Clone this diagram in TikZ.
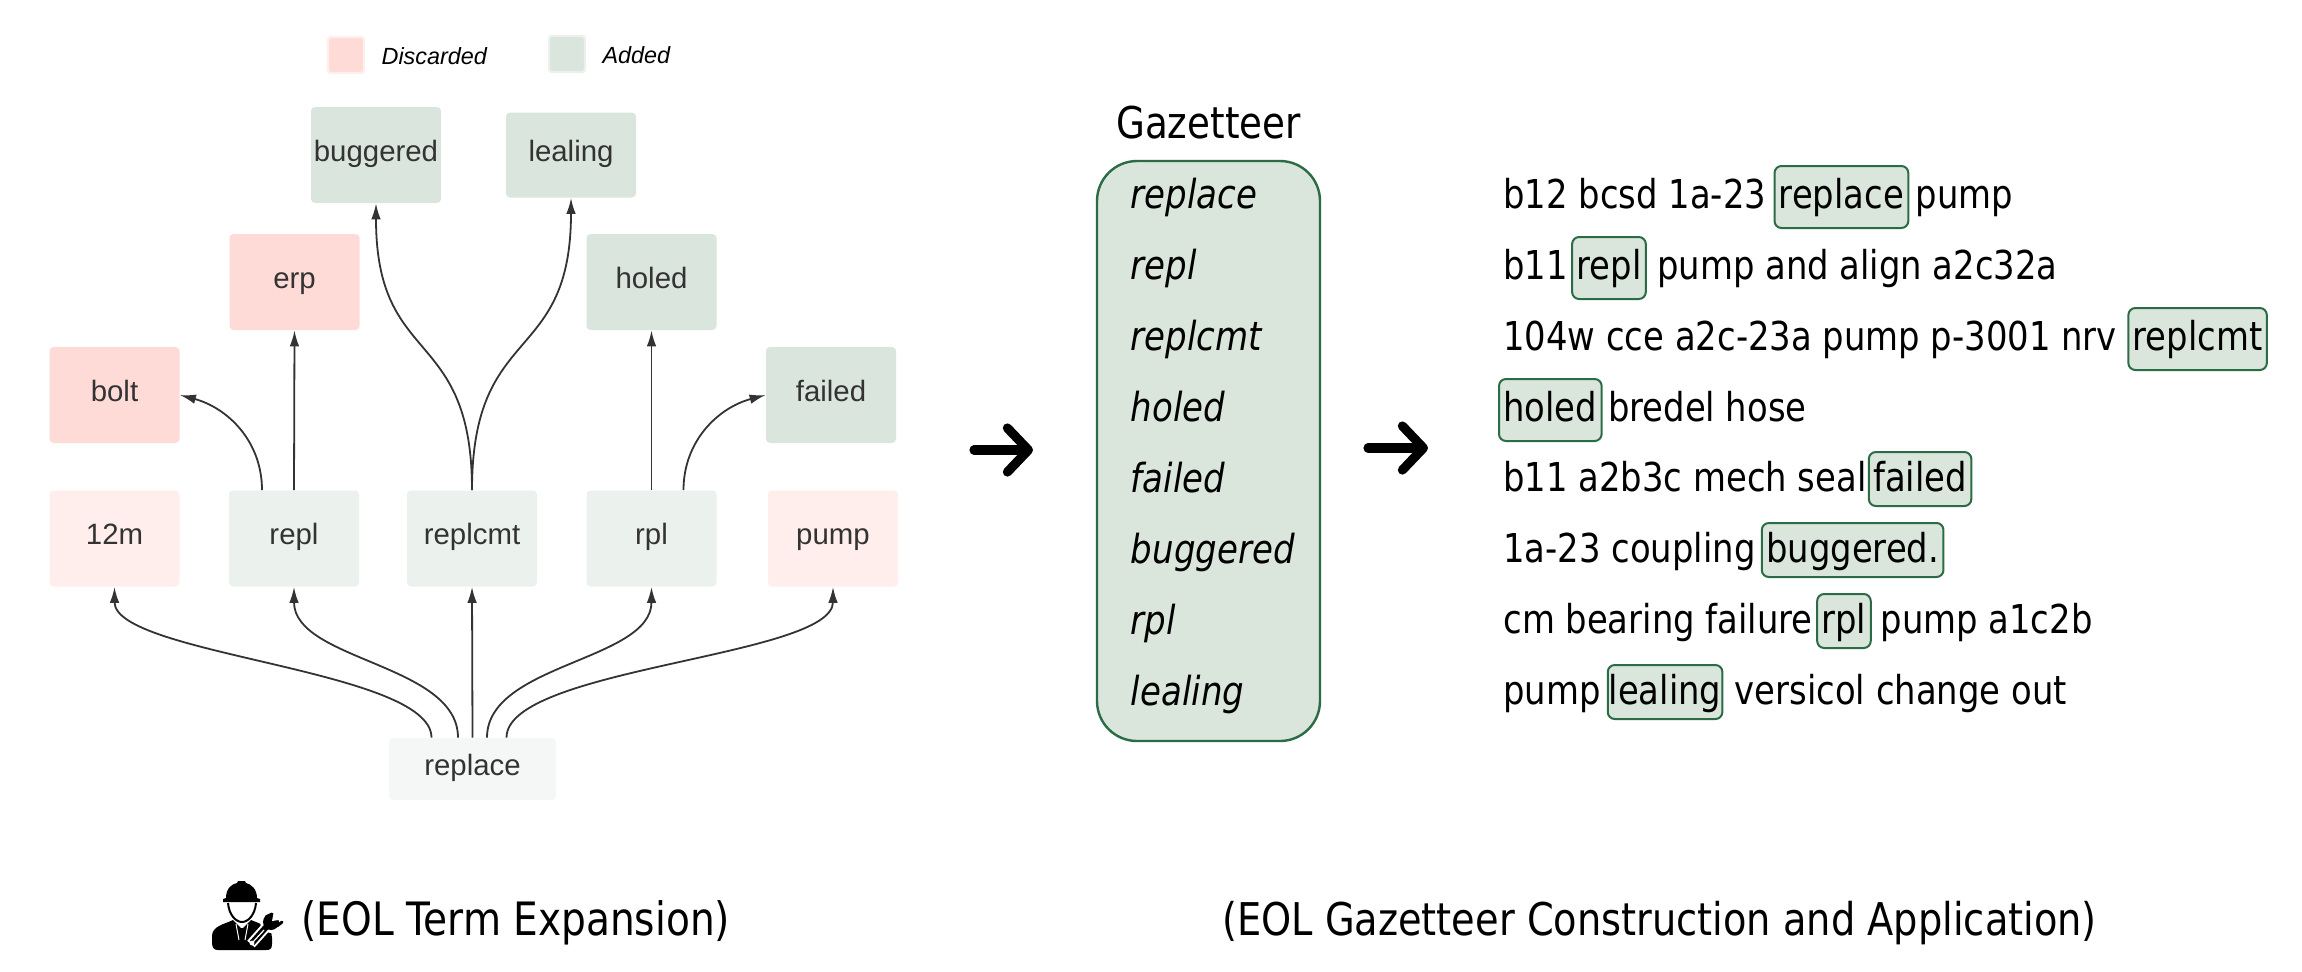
\documentclass[tikz,border=0pt]{standalone}
\usepackage{fontspec}
\setmainfont{Liberation Sans}
\newfontfamily\rowfont[FakeStretch=0.85]{DejaVu Sans}
\usetikzlibrary{arrows.meta, positioning}
\definecolor{redstrong}{HTML}{FFDBD8}
\definecolor{redlight}{HTML}{FFEEEC}
\definecolor{greenstrong}{HTML}{DAE5DD}
\definecolor{greenlight}{HTML}{EBF1ED}
\definecolor{rootfill}{HTML}{F5F7F6}
\definecolor{gazfill}{HTML}{DAE5DC}
\definecolor{gazline}{HTML}{2B6B45}
\definecolor{inkgray}{HTML}{333333}
\tikzset{
  term/.style={rectangle, rounded corners=2pt, minimum width=65pt, minimum height=48pt, inner sep=0pt,
    text=inkgray, text height=10pt, text depth=4pt, font=\fontsize{14.7}{16}\selectfont},
  discard/.style={term, fill=redstrong},
  discardlight/.style={term, fill=redlight},
  added/.style={term, fill=greenstrong},
  addedlight/.style={term, fill=greenlight},
  swatch/.style={rectangle, rounded corners=1.5pt, minimum size=18pt, inner sep=0pt, line width=1.2pt},
  legendtext/.style={anchor=west, inner sep=0pt, font=\fontsize{11.7}{13}\selectfont\itshape},
  edge/.style={draw=inkgray, line width=.9pt, -{Latex[length=8pt,width=4.8pt]}},
  bigarrow/.style={draw=black, line width=4.6pt, line cap=round,
    -{Straight Barb[length=10.5pt,width=22pt,line width=4.6pt,round]}},
  rowtext/.style={inner sep=0pt, font=\rowfont\fontsize{19.9}{22}\selectfont},
  hit/.style={rowtext, draw=gazline, fill=gazfill, line width=1pt, rounded corners=3.5pt,
    inner xsep=2.2pt, text height=21pt, text depth=10pt},
  hitsmall/.style={hit, text height=19.5pt, text depth=7.5pt},
  gazitem/.style={anchor=base west, inner sep=0pt, font=\rowfont\fontsize{20}{22}\selectfont\itshape},
  caption/.style={inner sep=0pt, font=\rowfont\fontsize{22.55}{26}\selectfont}
}
\begin{document}
\begin{tikzpicture}[x=.5pt,y=-.5pt]
\useasboundingbox (0,0) rectangle (2302,971);

\node[swatch, fill=redstrong, draw=redlight] (swatchdiscard) at (346,55) {};
\node[legendtext, right=8pt of swatchdiscard, yshift=-.5pt] (legenddiscard) {Discarded};
\node[swatch, fill=greenstrong, draw=greenlight] (swatchadded) at (567,54) {};
\node[legendtext, right=8pt of swatchadded, yshift=-.5pt] (legendadded) {Added};

\node[added] (buggered) at (376,155) {buggered};
\node[added, minimum height=42.5pt] (lealing) at (571,155) {lealing};
\node[discard] (erp) at (294.5,282) {erp};
\node[added] (holed) at (651.5,282) {holed};
\node[discard] (bolt) at (114.5,395) {bolt};
\node[added] (failed) at (831,395) {failed};
\node[discardlight] (twelve) at (114.5,538.5) {12m};
\node[addedlight] (repl) at (294,538.5) {repl};
\node[addedlight] (replcmt) at (472,538.5) {replcmt};
\node[addedlight] (rpl) at (651.5,538.5) {rpl};
\node[discardlight] (pump) at (833,538.5) {pump};
\node[term, fill=rootfill, minimum width=83.5pt, minimum height=31pt] (replace) at (472.5,769) {replace};

\draw[edge] ([xshift=-20.5pt]replace.north) to[out=90,in=-90,looseness=.5] (twelve.south);
\draw[edge] ([xshift=-7.25pt]replace.north) to[out=90,in=-90,looseness=.85] (repl.south);
\draw[edge] (replace.north) -- (replcmt.south);
\draw[edge] ([xshift=7.25pt]replace.north) to[out=90,in=-90,looseness=.85] (rpl.south);
\draw[edge] ([xshift=17pt]replace.north) to[out=90,in=-90,looseness=.5] (pump.south);
\draw[edge] ([xshift=-16pt]repl.north) to[out=90,in=-15] (bolt.east);
\draw[edge] (repl.north) -- (erp.south);
\draw[edge] (replcmt.north) to[out=90,in=-90,looseness=1.4] (buggered.south);
\draw[edge] (replcmt.north) to[out=90,in=-90,looseness=1.4] (lealing.south);
\draw[edge] (rpl.north) -- (holed.south);
\draw[edge] ([xshift=16pt]rpl.north) to[out=90,in=195] (failed.west);

\coordinate (arrowastart) at (974,450);
\coordinate (arrowaend) at (1033,450);
\coordinate (arrowbstart) at (1368,448);
\coordinate (arrowbend) at (1428,448);
\draw[bigarrow] (arrowastart) -- (arrowaend);
\draw[bigarrow] (arrowbstart) -- (arrowbend);

\node[draw=gazline, fill=gazfill, line width=1.2pt, rounded corners=20pt, minimum width=111.5pt, minimum height=290pt, inner sep=0pt] (gazetteer) at (1208.5,451) {};
\node[inner sep=0pt, font=\rowfont\fontsize{21.9}{26}\selectfont, above=10pt of gazetteer] (gaztitle) {Gazetteer};
\foreach \word [count=\i] in {replace,repl,replcmt,holed,failed,buggered,rpl,lealing}
  \node[gazitem] (gaz\i) at (1130.5,208+71*\i-71) {\word};

\node[rowtext, anchor=base west] (rowa) at (1503,208) {b12 bcsd 1a-23};
\node[hit, base right=3.5pt of rowa] (rowahit) {replace};
\node[rowtext, base right=3pt of rowahit] (rowaend) {pump};

\node[rowtext, anchor=base west] (rowb) at (1503,279) {b11};
\node[hit, base right=1.4pt of rowb] (rowbhit) {repl};
\node[rowtext, base right=5pt of rowbhit] (rowbend) {pump and align a2c32a};

\node[rowtext, anchor=base west] (rowc) at (1503,350) {104w cce a2c-23a pump p-3001 nrv};
\node[hit, base right=5.1pt of rowc] (rowchit) {replcmt};

\node[hit, anchor=base west] (rowdhit) at (1498,421) {holed};
\node[rowtext, base right=2.5pt of rowdhit] (rowdend) {bredel hose};

\node[rowtext, anchor=base west] (rowe) at (1503,491) {b11 a2b3c mech seal};
\node[hitsmall, base right=.5pt of rowe] (rowehit) {failed};

\node[rowtext, anchor=base west] (rowf) at (1503,562) {1a-23 coupling};
\node[hitsmall, base right=2.4pt of rowf] (rowfhit) {buggered.};

\node[rowtext, anchor=base west] (rowg) at (1503,633) {cm bearing failure};
\node[hitsmall, base right=1.6pt of rowg] (rowghit) {rpl};
\node[rowtext, base right=4.2pt of rowghit] (rowgend) {pump a1c2b};

\node[rowtext, anchor=base west] (rowh) at (1503,704) {pump};
\node[hitsmall, inner xsep=.5pt, base right=2.8pt of rowh] (rowhhit) {lealing};
\node[rowtext, base right=5.5pt of rowhhit] (rowhend) {versicol change out};

\node[caption, anchor=west, font=\rowfont\fontsize{23}{26}\selectfont] (captionleft) at (301,923) {(EOL Term Expansion)};
\node[caption] (captionright) at (1659.5,923) {(EOL Gazetteer Construction and Application)};

\fill (226,898) .. controls (226,888) and (232,884) .. (237,883) -- (238,881) -- (245,881) -- (246,883) .. controls (251,884) and (257,889) .. (257,898) -- (260,899) -- (260,902) -- (223,902) -- (223,899) -- cycle;
\draw[line width=1pt] (228,903) .. controls (229,915) and (236,922) .. (242,922) .. controls (248,922) and (255,915) .. (256,903);
\fill (212,942) -- (212,936) .. controls (212,926) and (225,924) .. (233,920) -- (241,928) -- (243,928) -- (251,920) .. controls (260,924) and (272,926) .. (272,938) -- (272,944) .. controls (272,949) and (270,950) .. (266,950) -- (218,950) .. controls (214,950) and (212,948) .. (212,942) -- cycle;
\draw[white, line width=.5pt] (236,924) -- (239,940) (248,924) -- (245,940);
\draw[white, line width=5pt] (251,944) -- (268,925);
\fill[white] (271,922) circle (11);
\draw[line width=3pt] (252,943) -- (268,925);
\draw[white, line width=.6pt] (253,942) -- (264,930);
\fill[white] (252,943) circle (1.2pt);
\fill (271,922) circle (8);
\fill[white] (272,921) -- (274,911) -- (285,919) -- cycle;
\draw[line width=1.5pt, line cap=round] (266,917) -- (272,914) (277,926) -- (282,922);
\end{tikzpicture}
\end{document}
